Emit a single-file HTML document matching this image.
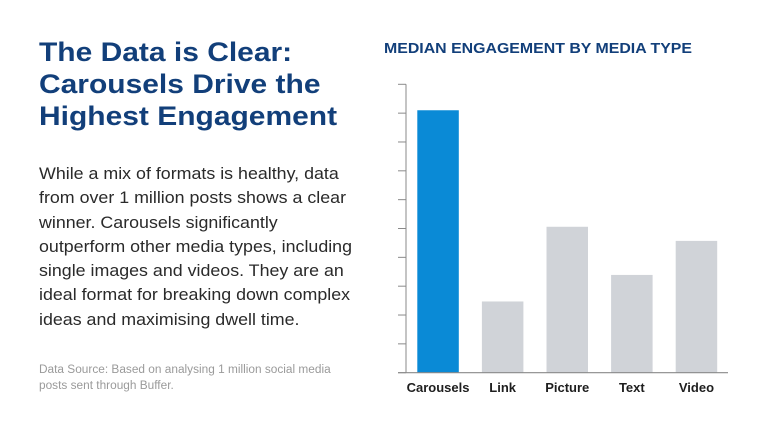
<!DOCTYPE html>
<html><head><meta charset="utf-8"><style>
body{margin:0;width:768px;height:427px;background:#fff;overflow:hidden;font-family:"Liberation Sans",sans-serif;position:relative}
.h{position:absolute;left:39px;top:36px;font-weight:bold;font-size:27px;line-height:32px;color:#123f7a;white-space:nowrap;transform-origin:0 0;transform:scaleX(1.11)}
.b{position:absolute;left:39px;top:162px;font-size:16.5px;line-height:24.3px;color:#2a2a2a;white-space:nowrap;transform-origin:0 0;transform:scaleX(1.08)}
.s{position:absolute;left:39px;top:362px;font-size:11.5px;line-height:16px;color:#9a9a9a;white-space:nowrap;transform-origin:0 0;transform:scaleX(1.03)}
</style></head><body>
<div class="h">The Data is Clear:<br>Carousels Drive the<br>Highest Engagement</div>
<div class="b">While a mix of formats is healthy, data<br>from over 1 million posts shows a clear<br>winner. Carousels significantly<br>outperform other media types, including<br>single images and videos. They are an<br>ideal format for breaking down complex<br>ideas and maximising dwell time.</div>
<div class="s">Data Source: Based on analysing 1 million social media<br>posts sent through Buffer.</div>
<svg id="chart" width="768" height="427" style="position:absolute;left:0;top:0">
<text x="384" y="53" textLength="308" lengthAdjust="spacingAndGlyphs" font-family="Liberation Sans" font-weight="bold" font-size="14.5" fill="#123f7a">MEDIAN ENGAGEMENT BY MEDIA TYPE</text>
</svg>
<script>
const categories=["Carousels","Link","Picture","Text","Video"];
const values=[9.1,2.47,5.06,3.39,4.57];
const tickValues=[0,1,2,3,4,5,6,7,8,9,10];
const svg=document.getElementById('chart');
const NS='http://www.w3.org/2000/svg';
const x0=406,base=372.7,unit=28.84,pitch=64.6,firstX=417.3,bw=41.5;
const y=v=>base-v*unit;
const xb=i=>firstX+i*pitch;
function mk(t,a){const e=document.createElementNS(NS,t);for(const k in a)e.setAttribute(k,a[k]);svg.appendChild(e);return e;}
tickValues.forEach(v=>{
 const t=mk('line',{x1:398,x2:x0,y1:y(v),y2:y(v),stroke:'#8a8a8a','stroke-width':1});
 
 
});
const ax=mk('line',{x1:x0,x2:x0,y1:y(10),y2:base,stroke:'#8a8a8a','stroke-width':1});


categories.forEach((c,i)=>{
 const r=mk('rect',{x:xb(i),y:y(values[i]),width:bw,height:base-y(values[i]),fill:i===0?'#0a8ad6':'#d0d3d8'});
 
 
 const l=mk('text',{x:xb(i)+bw/2,y:392,'text-anchor':'middle','font-family':'Liberation Sans','font-weight':'bold','font-size':13,fill:'#1e1e1e'});
 l.textContent=c;
 
 
});
const xa=mk('line',{x1:398,x2:728,y1:base,y2:base,stroke:'#8a8a8a','stroke-width':1.2});


</script>
</body></html>
